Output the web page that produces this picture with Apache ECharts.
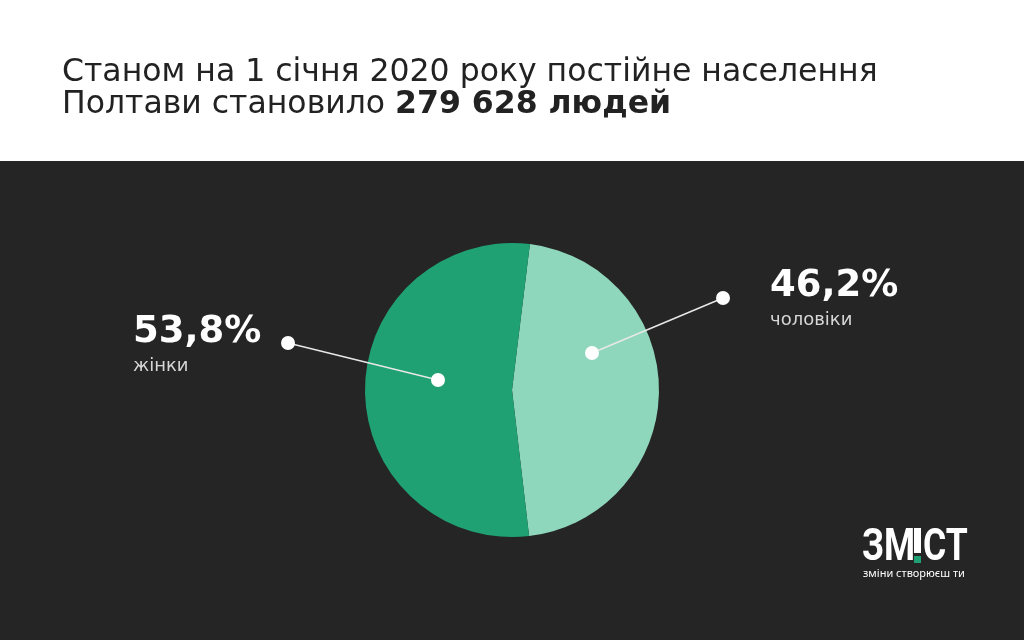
<!DOCTYPE html>
<html><head><meta charset="utf-8">
<script src="https://cdn.jsdelivr.net/npm/echarts@6/dist/echarts.min.js"></script>
<style>html,body{margin:0;padding:0;background:#252525}#c{width:1024px;height:640px}</style>
</head><body><div id="c"></div>
<script>
const categories = ['чоловіки', 'жінки'];
const shares = [46.2, 53.8];
const shareLabels = ['46,2%', '53,8%'];
const titleLine1 = 'Станом на 1 січня 2020 року постійне населення';
const titleLine2a = 'Полтави становило ';
const titleLine2b = '279 628 людей';
const logoLeft = 'ЗМ';
const logoRight = 'СТ';
const logoSub = 'зміни створюєш ти';

const colors = ['#8fd7bc', '#1fa173'];
const FONT = '"DejaVu Sans", sans-serif';
const CX = 512, CY = 390, R = 147;
// annotation geometry relative to the pie centre
const ann = [
  { inner: [80, -37], outer: [211, -92], label: [258, -126] },
  { inner: [-74, -10], outer: [-224, -47], label: [-379, -80] }
];

const chart = echarts.init(document.getElementById('c'), null, { renderer: 'canvas' });

const annot = [];
ann.forEach(a => {
  annot.push({
    type: 'polyline', z: 99,
    shape: { points: [[CX + a.inner[0], CY + a.inner[1]], [CX + a.outer[0], CY + a.outer[1]]] },
    style: { stroke: '#e8e8e8', lineWidth: 1.5, fill: null }
  });
  [a.inner, a.outer].forEach(p => annot.push({
    type: 'circle', z: 100,
    shape: { cx: CX + p[0], cy: CY + p[1], r: 7 },
    style: { fill: '#ffffff' }
  }));
});

const logoFont = 'bold 45px "Roboto", sans-serif';

chart.setOption({
  backgroundColor: '#252525',
  animation: false,
  graphic: [
    { type: 'rect', z: -1, shape: { x: 0, y: 0, width: 1024, height: 161 }, style: { fill: '#ffffff' } },
    ...annot,
    { type: 'text', x: 862, y: 526, scaleX: 0.79, style: { text: logoLeft, font: logoFont, fill: '#ffffff' } },
    { type: 'rect', shape: { x: 914, y: 528, width: 7, height: 25 }, style: { fill: '#ffffff' } },
    { type: 'rect', shape: { x: 914, y: 556, width: 7, height: 7 }, style: { fill: '#1fa173' } },
    { type: 'text', x: 923, y: 526, scaleX: 0.79, style: { text: logoRight, font: logoFont, fill: '#ffffff' } },
    { type: 'text', left: 863, top: 568, style: { text: logoSub, font: '11px "Noto Sans", sans-serif', fill: '#ffffff' } }
  ],
  title: {
    left: 57, top: 52,
    text: '{a|' + titleLine1 + '}\n{a|' + titleLine2a + '}{b|' + titleLine2b + '}',
    textStyle: {
      rich: {
        a: { fontFamily: FONT, fontSize: 31.5, fontWeight: 'normal', color: '#222222', lineHeight: 32 },
        b: { fontFamily: FONT, fontSize: 31.5, fontWeight: 'bold', color: '#222222', lineHeight: 32 }
      }
    }
  },
  series: [{
    type: 'pie',
    center: [CX, CY],
    radius: [0, R],
    startAngle: 83,
    clockwise: true,
    silent: true,
    data: categories.map((c, i) => ({ name: c, value: shares[i], itemStyle: { color: colors[i] } })),
    label: {
      show: true,
      position: 'outside',
      formatter: p => '{v|' + shareLabels[p.dataIndex] + '}\n{n|' + p.name + '}',
      rich: {
        v: { fontFamily: FONT, fontSize: 37, fontWeight: 'bold', color: '#ffffff', lineHeight: 44 },
        n: { fontFamily: FONT, fontSize: 18, color: '#d6d6d6', lineHeight: 24 }
      }
    },
    labelLine: { show: false },
    labelLayout: function (p) {
      const a = ann[p.dataIndex];
      return { x: CX + a.label[0], y: CY + a.label[1], align: 'left', verticalAlign: 'top' };
    }
  }]
});
</script></body></html>
